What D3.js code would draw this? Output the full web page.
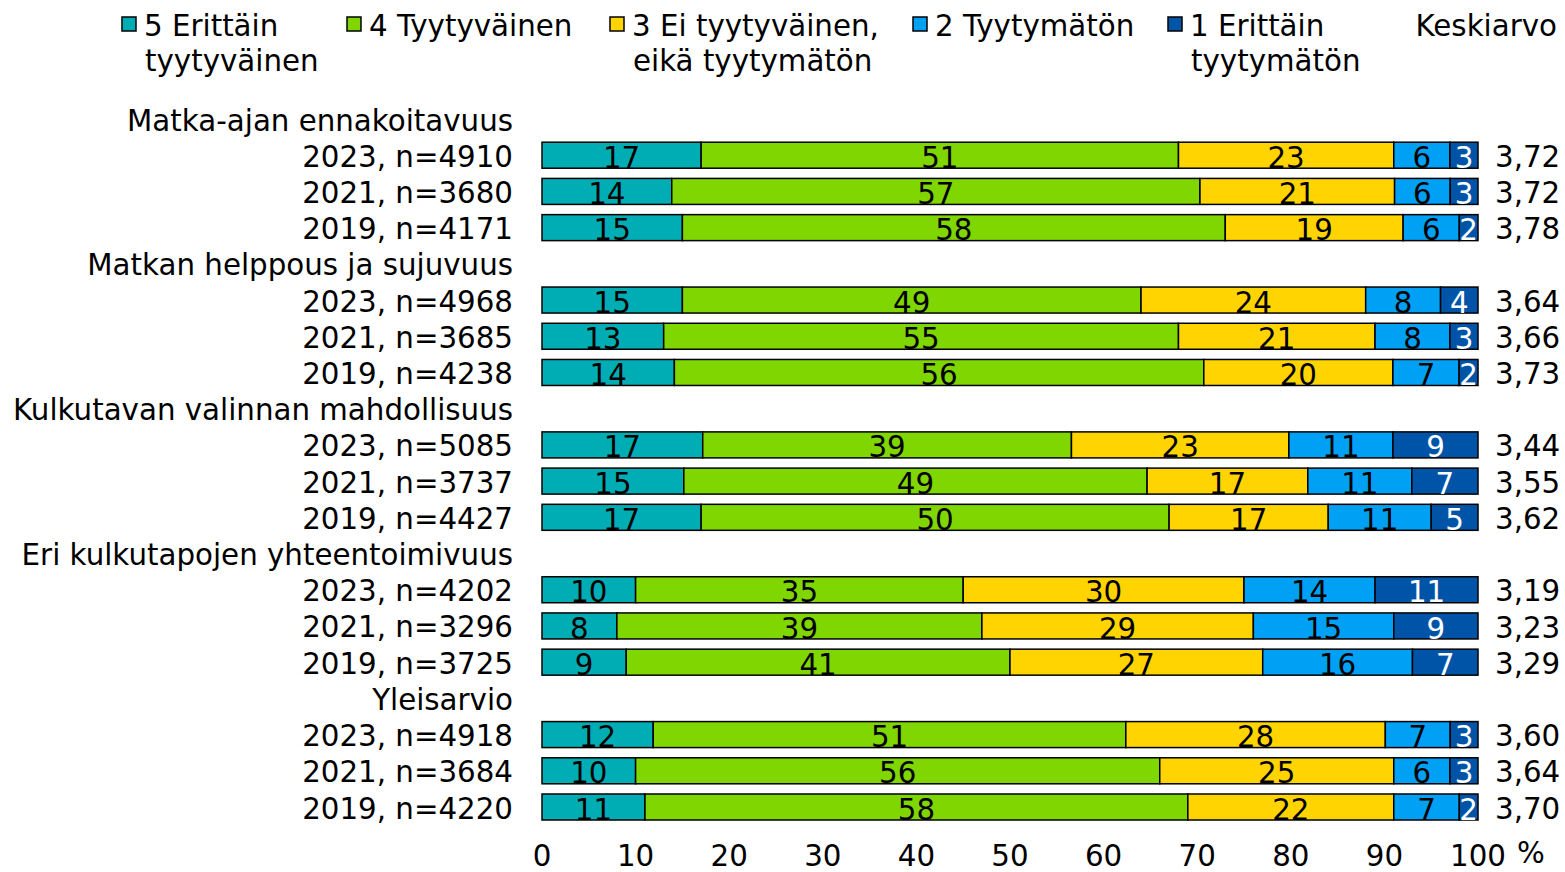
<!DOCTYPE html>
<html>
<head>
<meta charset="utf-8">
<script src="https://cdn.jsdelivr.net/npm/d3@7"></script>
<style>
  body { margin: 0; background: #fff; }
  text { font-family: "DejaVu Sans", Verdana, sans-serif; fill: #000; }
</style>
</head>
<body>
<svg id="chart" width="1565" height="872"></svg>
<script>
// legend / series
var seriesNames = [
  ["5 Erittäin", "tyytyväinen"],
  ["4 Tyytyväinen"],
  ["3 Ei tyytyväinen,", "eikä tyytymätön"],
  ["2 Tyytymätön"],
  ["1 Erittäin", "tyytymätön"]
];
var seriesColors = ["#00adb5", "#80d600", "#ffd400", "#00a0f5", "#0054a8"];

// question groups
var groups = [
  "Matka-ajan ennakoitavuus",
  "Matkan helppous ja sujuvuus",
  "Kulkutavan valinnan mahdollisuus",
  "Eri kulkutapojen yhteentoimivuus",
  "Yleisarvio"
];
var rowLabels = [
  ["2023, n=4910", "2021, n=3680", "2019, n=4171"],
  ["2023, n=4968", "2021, n=3685", "2019, n=4238"],
  ["2023, n=5085", "2021, n=3737", "2019, n=4427"],
  ["2023, n=4202", "2021, n=3296", "2019, n=3725"],
  ["2023, n=4918", "2021, n=3684", "2019, n=4220"]
];
var values = [
  [[17, 51, 23, 6, 3], [14, 57, 21, 6, 3], [15, 58, 19, 6, 2]],
  [[15, 49, 24, 8, 4], [13, 55, 21, 8, 3], [14, 56, 20, 7, 2]],
  [[17, 39, 23, 11, 9], [15, 49, 17, 11, 7], [17, 50, 17, 11, 5]],
  [[10, 35, 30, 14, 11], [8, 39, 29, 15, 9], [9, 41, 27, 16, 7]],
  [[12, 51, 28, 7, 3], [10, 56, 25, 6, 3], [11, 58, 22, 7, 2]]
];
var means = [
  ["3,72", "3,72", "3,78"],
  ["3,64", "3,66", "3,73"],
  ["3,44", "3,55", "3,62"],
  ["3,19", "3,23", "3,29"],
  ["3,60", "3,64", "3,70"]
];
var xTicks = [0, 10, 20, 30, 40, 50, 60, 70, 80, 90, 100];

var svg = d3.select("#chart");
var fontSize = 29.3;

// flatten into rows (header + bars)
var rows = [];
groups.forEach(function (g, gi) {
  rows.push({ type: "header", label: g });
  rowLabels[gi].forEach(function (lab, ri) {
    rows.push({ type: "bar", label: lab, vals: values[gi][ri], mean: means[gi][ri] });
  });
});

var x = d3.scaleLinear().domain([0, 100]).range([542, 1478]);
var y = d3.scalePoint().domain(d3.range(rows.length)).range([119, 807]);
var barH = 26;

// row labels
svg.append("g").selectAll("text")
  .data(rows)
  .enter()
  .append("text")
  .attr("x", 513)
  .attr("y", function (d, i) { return y(i) + 1; })
  .attr("dy", "0.36em")
  .attr("text-anchor", "end")
  .style("font-size", fontSize + "px")
  .text(function (d) { return d.label; });

var barRows = rows.map(function (d, i) { d.i = i; return d; }).filter(function (d) { return d.type == "bar"; });

var bars = svg.append("g").selectAll("g")
  .data(barRows)
  .enter()
  .append("g")
  .attr("transform", function (d) { return "translate(0," + y(d.i) + ")"; });

bars.each(function (d) {
  // stack the segments, scaled so the bar spans 0-100
  var total = d3.sum(d.vals);
  var cum = 0;
  var segs = d.vals.map(function (v, k) {
    var s = { k: k, v: v, x0: cum / total * 100 };
    cum += v;
    s.x1 = cum / total * 100;
    return s;
  });
  var g = d3.select(this);
  g.selectAll("rect")
    .data(segs)
    .enter()
    .append("rect")
    .attr("x", function (s) { return x(s.x0); })
    .attr("width", function (s) { return x(s.x1) - x(s.x0); })
    .attr("y", -barH / 2)
    .attr("height", barH)
    .attr("fill", function (s) { return seriesColors[s.k]; })
    .attr("stroke", "#000")
    .attr("stroke-width", 1.5);
  g.selectAll("text.val")
    .data(segs)
    .enter()
    .append("text")
    .attr("class", "val")
    .attr("x", function (s) { return (x(s.x0) + x(s.x1)) / 2; })
    .attr("y", 2)
    .attr("dy", "0.36em")
    .attr("text-anchor", "middle")
    .style("font-size", fontSize + "px")
    .style("fill", function (s) { return s.k == 4 ? "#fff" : "#000"; })
    .text(function (s) { return s.v; });
  g.append("text")
    .attr("x", 1495)
    .attr("y", 1)
    .attr("dy", "0.36em")
    .style("font-size", fontSize + "px")
    .text(d.mean);
});

// x axis labels
var axis = svg.append("g").attr("transform", "translate(0,855)");
axis.selectAll("text")
  .data(xTicks)
  .enter()
  .append("text")
  .attr("x", function (d) { return x(d); })
  .attr("dy", "0.36em")
  .attr("text-anchor", "middle")
  .style("font-size", fontSize + "px")
  .text(function (d) { return d; });
axis.append("text")
  .attr("x", 1517)
  .attr("y", -3)
  .attr("dy", "0.36em")
  .style("font-size", fontSize + "px")
  .text("%");

// legend
var legX = [122, 347, 610, 913, 1168];
var leg = svg.append("g").selectAll("g")
  .data(seriesNames)
  .enter()
  .append("g")
  .attr("transform", function (d, i) { return "translate(" + legX[i] + ",0)"; });
leg.append("rect")
  .attr("x", 0)
  .attr("y", 17)
  .attr("width", 14)
  .attr("height", 14)
  .attr("fill", function (d, i) { return seriesColors[i]; })
  .attr("stroke", "#000")
  .attr("stroke-width", 1.5);
leg.each(function (d) {
  var t = d3.select(this).append("text")
    .style("font-size", fontSize + "px");
  d.forEach(function (line, li) {
    t.append("tspan")
      .attr("x", li == 0 ? 22 : 23)
      .attr("y", 25 + li * 35)
      .attr("dy", "0.36em")
      .text(line);
  });
});
svg.append("text")
  .attr("x", 1557)
  .attr("y", 25)
  .attr("dy", "0.36em")
  .attr("text-anchor", "end")
  .style("font-size", fontSize + "px")
  .text("Keskiarvo");
</script>
</body>
</html>
